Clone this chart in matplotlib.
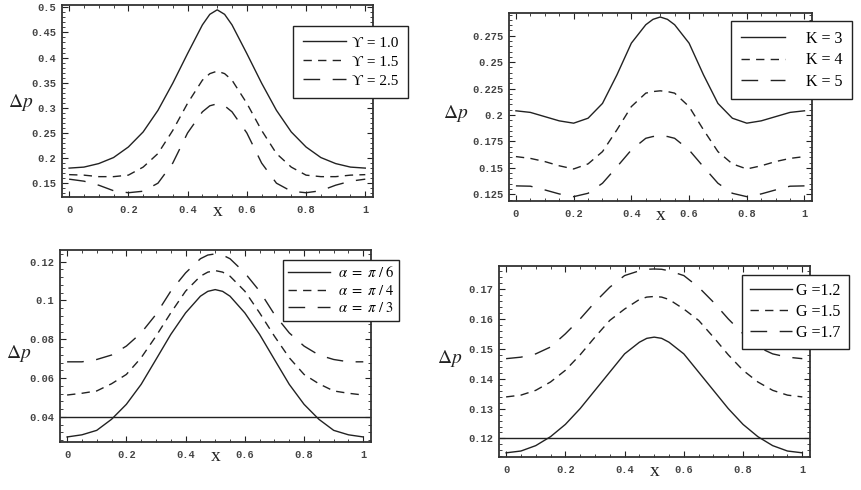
import matplotlib.pyplot as plt
from matplotlib.ticker import FixedLocator, AutoMinorLocator

################################################################################

x_vals = [0.0, 0.05, 0.1, 0.15, 0.2, 0.25, 0.3, 0.35, 0.4, 0.45, 0.475, 0.5,
          0.525, 0.55, 0.6, 0.65, 0.7, 0.75, 0.8, 0.85, 0.9, 0.95, 1.0]

# top left: gamma
gamma_10 = [0.180, 0.182, 0.189, 0.201, 0.222, 0.252, 0.295, 0.349, 0.408, 0.465, 0.486, 0.495,
            0.486, 0.465, 0.408, 0.349, 0.295, 0.252, 0.222, 0.201, 0.189, 0.182, 0.180]
gamma_15 = [0.167, 0.166, 0.163, 0.163, 0.166, 0.182, 0.209, 0.255, 0.309, 0.355, 0.368, 0.373,
            0.368, 0.355, 0.309, 0.255, 0.209, 0.182, 0.166, 0.163, 0.163, 0.166, 0.167]
gamma_25 = [0.158, 0.154, 0.146, 0.135, 0.131, 0.134, 0.150, 0.190, 0.250, 0.292, 0.304, 0.308,
            0.304, 0.292, 0.250, 0.190, 0.150, 0.134, 0.131, 0.135, 0.146, 0.154, 0.158]

# top right: K
k_3 = [0.2040, 0.2025, 0.1985, 0.1945, 0.1923, 0.1970, 0.2110, 0.2380, 0.2680, 0.2854, 0.2905, 0.2927,
       0.2905, 0.2854, 0.2680, 0.2380, 0.2110, 0.1970, 0.1923, 0.1945, 0.1985, 0.2025, 0.2040]
k_4 = [0.1607, 0.1590, 0.1560, 0.1520, 0.1490, 0.1538, 0.1654, 0.1860, 0.2080, 0.2207, 0.2222, 0.2229,
       0.2222, 0.2207, 0.2080, 0.1860, 0.1654, 0.1538, 0.1490, 0.1520, 0.1560, 0.1590, 0.1607]
k_5 = [0.1330, 0.1327, 0.1292, 0.1254, 0.1228, 0.1260, 0.1355, 0.1510, 0.1670, 0.1780, 0.1797, 0.1803,
       0.1797, 0.1780, 0.1670, 0.1510, 0.1355, 0.1260, 0.1228, 0.1254, 0.1292, 0.1327, 0.1330]

# bottom left: alpha
alpha_6 = [0.0297, 0.0308, 0.0331, 0.0388, 0.0465, 0.0568, 0.0696, 0.0825, 0.0936, 0.1022, 0.1047, 0.1056,
           0.1047, 0.1022, 0.0936, 0.0825, 0.0696, 0.0568, 0.0465, 0.0388, 0.0331, 0.0308, 0.0297]
alpha_4 = [0.0513, 0.0522, 0.0534, 0.0571, 0.0619, 0.0705, 0.0816, 0.0936, 0.1048, 0.1125, 0.1146, 0.1154,
           0.1146, 0.1125, 0.1048, 0.0936, 0.0816, 0.0705, 0.0619, 0.0571, 0.0534, 0.0522, 0.0513]
alpha_3 = [0.0684, 0.0684, 0.0696, 0.0719, 0.0765, 0.0833, 0.0928, 0.1048, 0.1142, 0.1215, 0.1234, 0.1240,
           0.1234, 0.1215, 0.1142, 0.1048, 0.0928, 0.0833, 0.0765, 0.0719, 0.0696, 0.0684, 0.0684]
alpha_ref = 0.04

# bottom right: G
g_12 = [0.1152, 0.1158, 0.1176, 0.1206, 0.1247, 0.1300, 0.1361, 0.1422, 0.1483, 0.1522, 0.1535, 0.1539,
        0.1535, 0.1522, 0.1483, 0.1422, 0.1361, 0.1300, 0.1247, 0.1206, 0.1176, 0.1158, 0.1152]
g_15 = [0.1339, 0.1345, 0.1361, 0.1389, 0.1428, 0.1480, 0.1539, 0.1595, 0.1633, 0.1665, 0.1673, 0.1675,
        0.1673, 0.1665, 0.1633, 0.1595, 0.1539, 0.1480, 0.1428, 0.1389, 0.1361, 0.1345, 0.1339]
g_17 = [0.1467, 0.1472, 0.1483, 0.1506, 0.1550, 0.1600, 0.1656, 0.1706, 0.1745, 0.1761, 0.1766, 0.1767,
        0.1766, 0.1761, 0.1745, 0.1706, 0.1656, 0.1600, 0.1550, 0.1506, 0.1483, 0.1472, 0.1467]
g_ref = 0.12

x_ticks = [0, 0.2, 0.4, 0.6, 0.8, 1]
x_tick_labels = ["0", "0.2", "0.4", "0.6", "0.8", "1"]

################################################################################

plt.rcParams["mathtext.fontset"] = "stix"
SERIF = ["Liberation Serif", "DejaVu Serif"]
MONO = "Liberation Mono"
INK = "#222222"
STYLES = ["-", (0, (6, 4.5)), (0, (12, 9))]

fig = plt.figure(figsize=(8.61, 4.90), dpi=100)


def px_rect(left, top, right, bottom):
    return [left / 861, 1 - bottom / 490, (right - left) / 861, (bottom - top) / 490]


def panel(rect, series, labels, ylim, yticks, ylabels, yminor, legend_xy,
          legend_kw, ref=None, dp_xy=(0, 0), legend_size=11):
    ax = fig.add_axes(px_rect(*rect))
    for ys, ls, lab in zip(series, STYLES, labels):
        ax.plot(x_vals, ys, color=INK, linewidth=1.0, linestyle=ls, label=lab)
    if ref is not None:
        ax.axhline(ref, color=INK, linewidth=1.0)

    ax.set_xlim(-0.024, 1.026)
    ax.set_ylim(*ylim)
    ax.xaxis.set_major_locator(FixedLocator(x_ticks))
    ax.set_xticklabels(x_tick_labels)
    ax.xaxis.set_minor_locator(AutoMinorLocator(4))
    ax.yaxis.set_major_locator(FixedLocator(yticks))
    ax.set_yticklabels(ylabels)
    ax.yaxis.set_minor_locator(AutoMinorLocator(yminor))

    ax.tick_params(which="both", direction="in", top=True, right=True,
                   colors=INK, labelcolor="#444444")
    ax.tick_params(which="major", length=4, width=0.8)
    ax.tick_params(which="minor", length=2, width=0.6)
    ax.tick_params(axis="x", pad=6)
    ax.tick_params(axis="y", pad=4)
    for lab in ax.get_xticklabels() + ax.get_yticklabels():
        lab.set_family(MONO)
        lab.set_fontsize(7.5)
        lab.set_fontweight("bold")
    for sp in ax.spines.values():
        sp.set_linewidth(1.3)
        sp.set_color("#333333")

    ax.text(0.5, -0.1, "x", transform=ax.transAxes, ha="center", va="baseline",
            family=SERIF, fontsize=14, color=INK)
    fig.text(dp_xy[0] / 861, 1 - dp_xy[1] / 490, r"$\Delta p$", ha="left",
             va="baseline", fontsize=14, color=INK)

    leg = ax.legend(loc="upper left",
                    bbox_to_anchor=(legend_xy[0] / 861, 1 - legend_xy[1] / 490),
                    bbox_transform=fig.transFigure, borderaxespad=0,
                    fancybox=False, framealpha=1, edgecolor=INK,
                    prop={"family": SERIF, "size": legend_size}, **legend_kw)
    leg.get_frame().set_linewidth(1.0)
    return ax


panel((62, 5, 373, 197), [gamma_10, gamma_15, gamma_25],
      ["ϒ = 1.0", "ϒ = 1.5", "ϒ = 2.5"],
      (0.1225, 0.5046), [0.15, 0.2, 0.25, 0.3, 0.35, 0.4, 0.45, 0.5],
      ["0.15", "0.2", "0.25", "0.3", "0.35", "0.4", "0.45", "0.5"], 5,
      (293, 26), dict(handlelength=2.8, handletextpad=0.4, labelspacing=0.35,
                      borderpad=0.65), dp_xy=(8, 107))

panel((509, 13, 812, 201), [k_3, k_4, k_5],
      ["K = 3", "K = 4", "K = 5"],
      (0.1187, 0.2965), [0.125, 0.15, 0.175, 0.2, 0.225, 0.25, 0.275],
      ["0.125", "0.15", "0.175", "0.2", "0.225", "0.25", "0.275"], 5,
      (731, 21), dict(handlelength=2.8, handletextpad=1.3, labelspacing=0.35,
                      borderpad=0.6), dp_xy=(443, 118), legend_size=11.5)

panel((60, 250, 371, 442), [alpha_6, alpha_4, alpha_3],
      [r"$\alpha\ =\ \pi\ /\ 6$", r"$\alpha\ =\ \pi\ /\ 4$", r"$\alpha\ =\ \pi\ /\ 3$"],
      (0.0271, 0.126), [0.04, 0.06, 0.08, 0.1, 0.12],
      ["0.04", "0.06", "0.08", "0.1", "0.12"], 5,
      (283, 260), dict(handlelength=2.9, handletextpad=0.5, labelspacing=0.25,
                       borderpad=0.35), ref=alpha_ref, dp_xy=(6, 358),
      legend_size=10.5)

panel((499, 266, 810, 457), [g_12, g_15, g_17],
      ["G =1.2", "G =1.5", "G =1.7"],
      (0.1138, 0.1777), [0.12, 0.13, 0.14, 0.15, 0.16, 0.17],
      ["0.12", "0.13", "0.14", "0.15", "0.16", "0.17"], 5,
      (742, 275), dict(handlelength=2.6, handletextpad=0.3, labelspacing=0.3,
                       borderpad=0.5), ref=g_ref, dp_xy=(437, 363),
      legend_size=11.5)

fig.savefig("out.png", dpi=100, facecolor="white")
